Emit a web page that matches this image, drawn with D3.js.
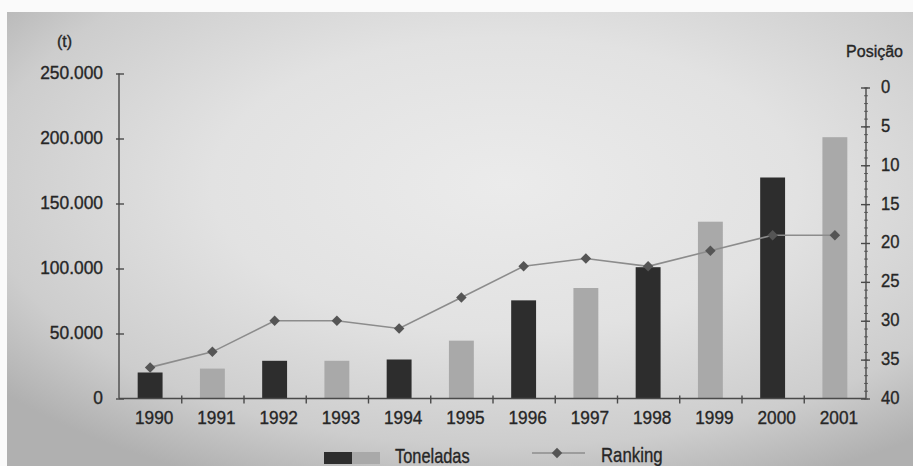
<!DOCTYPE html>
<html>
<head>
<meta charset="utf-8">
<script src="https://cdn.jsdelivr.net/npm/d3@7"></script>
<style>
  html, body { margin: 0; padding: 0; background: #ffffff; }
  svg { display: block; }
  text { font-family: "Liberation Sans", Arial, Helvetica, sans-serif; fill: #262626; stroke: #262626; stroke-width: 0.35px; }
</style>
</head>
<body>
<svg id="chart" width="913" height="466"></svg>
<script>
// Annual tonnage (bars, left axis) and world ranking position (line, right axis)
const years = ["1990", "1991", "1992", "1993", "1994", "1995", "1996", "1997", "1998", "1999", "2000", "2001"];
const toneladas = [20000, 23000, 29000, 29000, 30000, 44500, 75500, 85000, 101000, 136000, 170000, 201000];
const ranking = [36, 34, 30, 30, 31, 27, 23, 22, 23, 21, 19, 19];
const leftTicks = [0, 50000, 100000, 150000, 200000, 250000];
const rightTicks = [0, 5, 10, 15, 20, 25, 30, 35, 40];
const legendLabels = ["Toneladas", "Ranking"];

const W = 913, H = 466;
const x0 = 119, x1 = 866, yBase = 398.5, yTopLeft = 73.5, yTopRight = 87.5;

const svg = d3.select("#chart");

// paper background with soft shading toward the edges
const defs = svg.append("defs");
const grad = defs.append("radialGradient").attr("id", "paper")
  .attr("cx", "0.55").attr("cy", "0.38").attr("r", "0.72");
grad.append("stop").attr("offset", "0").attr("stop-color", "#ebebeb");
grad.append("stop").attr("offset", "0.45").attr("stop-color", "#e2e2e2");
grad.append("stop").attr("offset", "0.8").attr("stop-color", "#cdcdcd");
grad.append("stop").attr("offset", "1").attr("stop-color", "#b0b0b0");
svg.append("rect").attr("x", 0).attr("y", 0).attr("width", W).attr("height", H).attr("fill", "#fafafa");
svg.append("rect").attr("x", 7).attr("y", 12).attr("width", W - 7).attr("height", H - 12).attr("fill", "url(#paper)");

const x = d3.scaleBand().domain(years).range([x0, x1]).paddingInner(0.6).paddingOuter(0.3);
const yL = d3.scaleLinear().domain([0, 250000]).range([yBase, yTopLeft]);
const yR = d3.scaleLinear().domain([0, 40]).range([yTopRight, yBase]);

const ptFormat = d3.formatLocale({ decimal: ",", thousands: ".", grouping: [3], currency: ["R$", ""] }).format(",");

const axisColor = "#4a4a4a";

// bars
svg.append("g").selectAll("rect").data(years).join("rect")
  .attr("x", d => x(d))
  .attr("width", x.bandwidth())
  .attr("y", (d, i) => yL(toneladas[i]))
  .attr("height", (d, i) => yBase - yL(toneladas[i]))
  .attr("fill", (d, i) => i % 2 === 0 ? "#2d2d2d" : "#a9a9a9");

// left axis
const gL = svg.append("g").attr("transform", `translate(${x0},0)`)
  .call(d3.axisLeft(yL).tickValues(leftTicks).tickFormat(ptFormat).tickSize(3).tickPadding(0));
gL.select(".domain").attr("stroke", axisColor).attr("stroke-width", 1.4).attr("d", `M0,${yTopLeft}V${yBase}`);
gL.selectAll(".tick line").attr("stroke", axisColor).attr("stroke-width", 1.4).attr("x1", -3).attr("x2", 5);
gL.selectAll(".tick text")
  .attr("x", 0).attr("dy", "0.32em")
  .attr("transform", "translate(-16,-1) scale(0.94,1)")
  .style("font-size", "18.5px");

// bottom axis: ticks at band boundaries, labels under each bar
const gB = svg.append("g").attr("transform", `translate(0,${yBase})`);
gB.append("line").attr("x1", x0).attr("x2", x1).attr("stroke", axisColor).attr("stroke-width", 1.4);
const bounds = d3.scaleLinear().domain([0, years.length]).range([x0, x1]);
gB.call(d3.axisBottom(bounds).tickValues(d3.range(1, years.length)).tickFormat("").tickSize(4))
  .call(g => g.select(".domain").remove());
gB.selectAll(".tick line").attr("stroke", axisColor).attr("stroke-width", 1.4).attr("y1", -3).attr("y2", 5);
const gX = svg.append("g").attr("transform", `translate(0,${yBase})`)
  .call(d3.axisBottom(x).tickSize(0).tickPadding(0));
gX.select(".domain").remove();
gX.selectAll(".tick text")
  .attr("y", 0).attr("dy", 0)
  .attr("transform", "translate(4,25) scale(0.93,1)")
  .style("font-size", "18.5px");

// right axis: minor ticks each position, labelled every 5
const gRm = svg.append("g").attr("transform", `translate(${x1},0)`)
  .call(d3.axisRight(yR).tickValues(d3.range(0, 41)).tickFormat("").tickSize(2));
gRm.select(".domain").attr("stroke", axisColor).attr("stroke-width", 1.4).attr("d", `M0,${yTopRight}V${yBase}`);
gRm.selectAll(".tick line").attr("stroke", axisColor).attr("stroke-width", 0.8).attr("x1", -2).attr("x2", 2);
const gR = svg.append("g").attr("transform", `translate(${x1},0)`)
  .call(d3.axisRight(yR).tickValues(rightTicks).tickSize(4).tickPadding(0));
gR.select(".domain").remove();
gR.selectAll(".tick line").attr("stroke", axisColor).attr("stroke-width", 1.4).attr("x1", -5).attr("x2", 4);
gR.selectAll(".tick text")
  .attr("x", 0).attr("dy", "0.32em")
  .attr("transform", "translate(15,-1) scale(0.9,1)")
  .style("font-size", "18.5px");

// axis titles
svg.append("text").attr("x", 57).attr("y", 47).style("font-size", "16px").text("(t)");
svg.append("text").attr("x", 903).attr("y", 57).attr("text-anchor", "end").style("font-size", "16px").text("Posição");

// ranking line with diamond markers
const cx = d => x(d) + x.bandwidth() / 2;
const line = d3.line().x(d => cx(d)).y((d, i) => yR(ranking[i]));
svg.append("path").datum(years).attr("d", line)
  .attr("fill", "none").attr("stroke", "#8c8c8c").attr("stroke-width", 1.6);
const diamond = d3.symbol(d3.symbolSquare, 55);
svg.append("g").selectAll("path").data(years).join("path")
  .attr("d", diamond)
  .attr("transform", (d, i) => `translate(${cx(d)},${yR(ranking[i])}) rotate(45)`)
  .attr("fill", "#555555");

// legend
const lg = svg.append("g");
lg.append("rect").attr("x", 324).attr("y", 452).attr("width", 28).attr("height", 12).attr("fill", "#2d2d2d");
lg.append("rect").attr("x", 352).attr("y", 452).attr("width", 28).attr("height", 12).attr("fill", "#a9a9a9");
lg.append("text").attr("transform", "translate(395,462.5) scale(0.82,1)").style("font-size", "20px").text(legendLabels[0]);
lg.append("line").attr("x1", 532).attr("x2", 585).attr("y1", 453).attr("y2", 453)
  .attr("stroke", "#8c8c8c").attr("stroke-width", 1.6);
lg.append("path").attr("d", diamond).attr("transform", "translate(557,453) rotate(45)").attr("fill", "#555555");
lg.append("text").attr("transform", "translate(601,462) scale(0.84,1)").style("font-size", "20px").text(legendLabels[1]);
</script>
</body>
</html>
